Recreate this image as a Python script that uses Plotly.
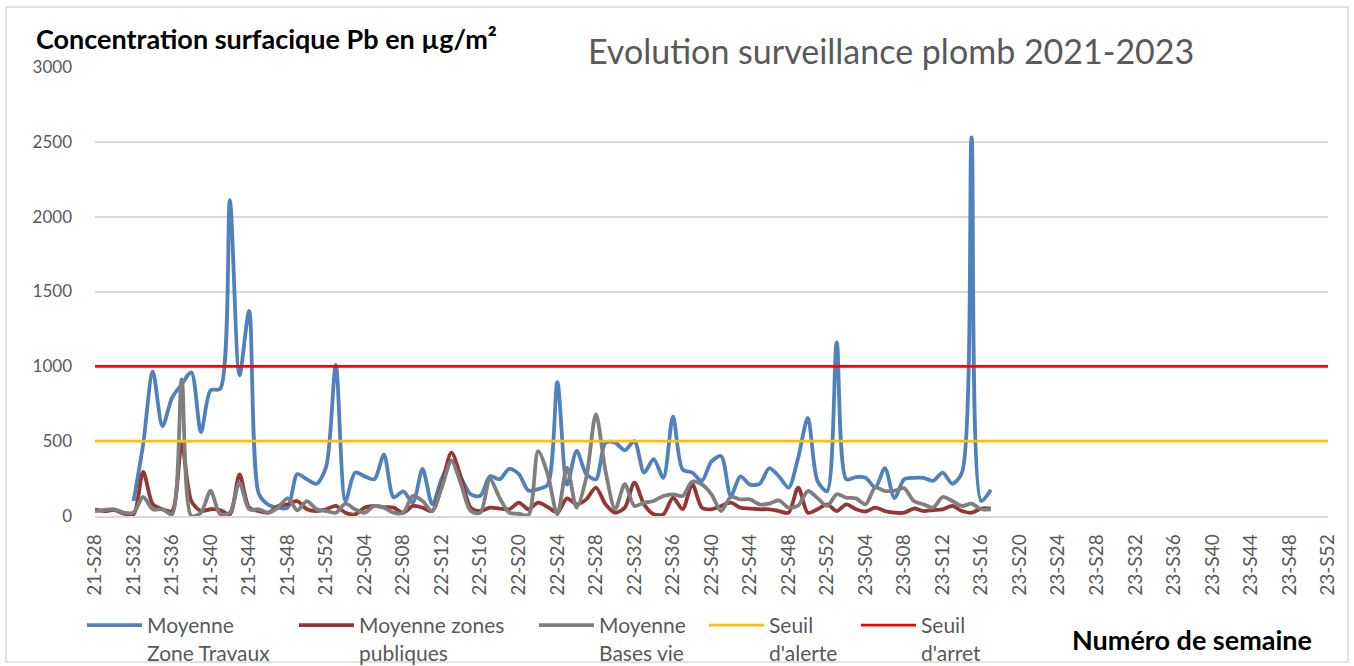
import plotly.graph_objects as go

# ---- categories (weeks) ----
weeks = ([f"21-S{w:02d}" for w in range(28, 53)]
         + [f"22-S{w:02d}" for w in range(1, 53)]
         + [f"23-S{w:02d}" for w in range(1, 53)])
tick_labels = weeks[::4]

# ---- series values ----
zone_travaux = [None, None, None, None,
    100, 480, 965, 600, 790, 880, 960, 560, 840, 850, 2110, 940, 1370, 150, 75, 55,
    55, 280, 245, 215, 330, 1010, 100, 290, 265, 245, 410, 125, 165, 90, 315, 80,
    250, 370, 255, 145, 135, 265, 245, 315, 280, 170, 180, 210, 895, 210, 435, 280,
    245, 490, 490, 440, 500, 290, 380, 255, 665, 310, 290, 235, 365, 400, 135, 265,
    210, 215, 320, 265, 190, 390, 655, 235, 165, 1160, 245, 260, 255, 190, 320, 120,
    245, 255, 255, 235, 290, 215, 290, 2530, 100, 175]

zones_publiques = [
    45, 33, 40, 16, 11, 295, 78, 45, 33, 480, 100, 33, 45, 40, 11, 278, 56, 33, 22, 67,
    78, 100, 45, 33, 45, 67, 22, 11, 56, 67, 60, 56, 22, 67, 56, 33, 212, 423, 256, 56,
    33, 56, 50, 45, 89, 45, 89, 60, 22, 118, 78, 111, 190, 78, 22, 56, 223, 78, 11, 11,
    122, 45, 212, 56, 45, 67, 89, 56, 50, 45, 45, 33, 22, 190, 22, 45, 78, 33, 78, 45,
    30, 56, 33, 22, 22, 50, 33, 40, 45, 67, 33, 22, 50, 50]

bases_vie = [
    33, 40, 45, 22, 22, 127, 45, 45, 11, 913, 0, 22, 167, 11, 22, 223, 45, 45, 22, 56,
    118, 38, 100, 45, 33, 22, 82, 45, 22, 67, 56, 22, 22, 134, 100, 33, 190, 367, 212, 33,
    22, 245, 122, 22, 15, 7, 434, 278, 11, 323, 56, 256, 680, 300, 45, 212, 67, 89, 100, 134,
    145, 134, 230, 212, 145, 33, 127, 111, 111, 78, 82, 105, 56, 70, 167, 120, 67, 145, 122, 118,
    78, 190, 167, 170, 185, 100, 78, 56, 127, 100, 67, 82, 45, 45]

seuil_alerte = 500
seuil_arret = 1000

series_names = ["Moyenne<br>Zone Travaux", "Moyenne zones<br>publiques",
                "Moyenne<br>Bases vie", "Seuil<br>d'alerte", "Seuil<br>d'arret"]

# ---- styles ----
FONT = "Lato"
GREY_TXT = "#595959"
L0, R0, T0, B0 = 95, 26, 67, 150
W, H = 1354, 666
PW = W - L0 - R0
PH = H - T0 - B0


def px_x(p):
    return (p - L0) / PW


def px_y(p):
    return (H - B0 - p) / PH


LW = 3.8
legend_left_px = [82, 294, 534, 704, 856]
legend_ids = ["legend", "legend2", "legend3", "legend4", "legend5"]

fig = go.Figure()
fig.add_trace(go.Scatter(x=weeks[:len(zone_travaux)], y=zone_travaux, mode="lines",
                         name=series_names[0], legend=legend_ids[0],
                         line=dict(color="#4F81BD", width=LW, shape="spline", smoothing=0.8)))
fig.add_trace(go.Scatter(x=weeks[:len(zones_publiques)], y=zones_publiques, mode="lines",
                         name=series_names[1], legend=legend_ids[1],
                         line=dict(color="#943634", width=LW, shape="spline", smoothing=0.8)))
fig.add_trace(go.Scatter(x=weeks[:len(bases_vie)], y=bases_vie, mode="lines",
                         name=series_names[2], legend=legend_ids[2],
                         line=dict(color="#7F7F7F", width=LW, shape="spline", smoothing=0.8)))
fig.add_trace(go.Scatter(x=[weeks[0], weeks[-1]], y=[seuil_alerte, seuil_alerte], mode="lines",
                         name=series_names[3], legend=legend_ids[3],
                         line=dict(color="#FFC000", width=2.8)))
fig.add_trace(go.Scatter(x=[weeks[0], weeks[-1]], y=[seuil_arret, seuil_arret], mode="lines",
                         name=series_names[4], legend=legend_ids[4],
                         line=dict(color="#FF0000", width=2.8)))

legend_layout = {}
for lid, lx in zip(legend_ids, legend_left_px):
    legend_layout[lid] = dict(orientation="h", x=px_x(lx), y=px_y(605),
                              xanchor="left", yanchor="top", valign="top",
                              font=dict(size=21, color=GREY_TXT, family=FONT),
                              itemwidth=55, bgcolor="rgba(0,0,0,0)")

fig.update_layout(
    width=W, height=H,
    margin=dict(l=L0, r=R0, t=T0, b=B0, autoexpand=False),
    paper_bgcolor="white", plot_bgcolor="white",
    font=dict(family=FONT, color=GREY_TXT),
    showlegend=True,
    xaxis=dict(type="category", categoryorder="array", categoryarray=weeks,
               range=[0, len(weeks) - 1], tickmode="array", tickvals=tick_labels,
               ticktext=tick_labels, tickangle=-90, tickfont=dict(size=19, color=GREY_TXT),
               showgrid=False, showline=True, linecolor="#d9d9d9", linewidth=1.5,
               ticks="", ticklabelstandoff=9),
    yaxis=dict(range=[0, 3000], dtick=500, tickfont=dict(size=17, color=GREY_TXT),
               showgrid=True, gridcolor="#d9d9d9", gridwidth=1.5, zeroline=False,
               showline=False, ticks="", ticklabelstandoff=22),
    annotations=[
        dict(text="<b>Concentration surfacique Pb en µg/m²</b>", x=px_x(34), y=px_y(38),
             xref="paper", yref="paper", xanchor="left", yanchor="middle", showarrow=False,
             font=dict(size=27, color="black", family=FONT)),
        dict(text="Evolution surveillance plomb 2021-2023", x=px_x(891), y=px_y(50),
             xref="paper", yref="paper", xanchor="center", yanchor="middle", showarrow=False,
             font=dict(size=34, color=GREY_TXT, family=FONT)),
        dict(text="<b>Numéro de semaine</b>", x=px_x(1192), y=px_y(639),
             xref="paper", yref="paper", xanchor="center", yanchor="middle", showarrow=False,
             font=dict(size=27, color="black", family=FONT)),
    ],
    shapes=[dict(type="rect", xref="paper", yref="paper",
                 x0=px_x(6), x1=px_x(1348), y0=px_y(662), y1=px_y(7),
                 line=dict(color="#d9d9d9", width=1.5), layer="below")],
    **legend_layout,
)

fig.write_html("out.html", config={"displayModeBar": False},
               post_script="document.body.style.margin='0px';")
